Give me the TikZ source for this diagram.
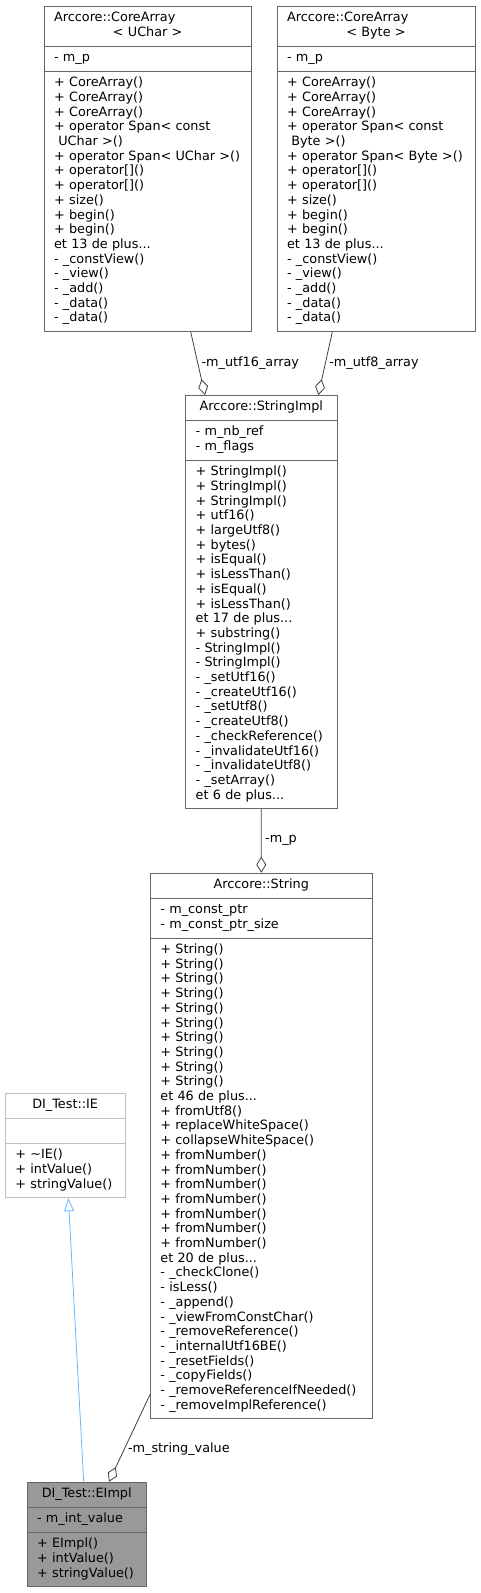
\documentclass[tikz,border=0pt]{standalone}
\usepackage{fontspec}
\setmainfont{DejaVu Sans}
\usetikzlibrary{shapes.multipart, arrows.meta, positioning}
\definecolor{boxgray}{HTML}{666666}
\definecolor{ifacegray}{HTML}{BFBFBF}
\definecolor{selffill}{HTML}{999999}
\definecolor{edgegray}{HTML}{404040}
\definecolor{inheritblue}{HTML}{63B8FF}
\newcommand{\hd}[1]{\makebox[\hsize][c]{#1}}

\begin{document}
\begin{tikzpicture}[x=1pt, y=-1pt, font=\fontsize{12.8}{14.7}\selectfont,
    cls/.style={rectangle split, rectangle split parts=3, draw=boxgray, line width=0.8pt,
      fill=white, inner xsep=10pt, inner ysep=4.8pt, align=left, anchor=north west},
    aggr/.style={draw=edgegray, line width=0.8pt, -{Diamond[open, length=16pt, width=10pt]}},
    inherit/.style={draw=inheritblue, line width=0.8pt, -{Triangle[open, length=13pt, width=10pt]}},
    lbl/.style={anchor=west, inner sep=3.5pt}]

    \useasboundingbox (0,0) rectangle (481,1593);

    % member classes
    \node (uchar) [cls, text width=187.2pt] at (43.7,6) {\strut Arccore::CoreArray\\\hd{< UChar >}\strut
      \nodepart{two}\strut - m\_p\strut
      \nodepart{three}\strut + CoreArray()\\+ CoreArray()\\+ CoreArray()\\+ operator Span< const\\~UChar >()\\+ operator Span< UChar >()\\+ operator[]()\\+ operator[]()\\+ size()\\+ begin()\\+ begin()\\et 13 de plus...\\- \_constView()\\- \_view()\\- \_add()\\- \_data()\\- \_data()\strut};
    \node (byte) [cls, text width=177.8pt] at (276.7,6) {\strut Arccore::CoreArray\\\hd{< Byte >}\strut
      \nodepart{two}\strut - m\_p\strut
      \nodepart{three}\strut + CoreArray()\\+ CoreArray()\\+ CoreArray()\\+ operator Span< const\\~Byte >()\\+ operator Span< Byte >()\\+ operator[]()\\+ operator[]()\\+ size()\\+ begin()\\+ begin()\\et 13 de plus...\\- \_constView()\\- \_view()\\- \_add()\\- \_data()\\- \_data()\strut};
    \node (impl) [cls, text width=131.2pt] at (185.3,395) {\strut\hd{Arccore::StringImpl}\strut
      \nodepart{two}\strut - m\_nb\_ref\\- m\_flags\strut
      \nodepart{three}\strut + StringImpl()\\+ StringImpl()\\+ StringImpl()\\+ utf16()\\+ largeUtf8()\\+ bytes()\\+ isEqual()\\+ isLessThan()\\+ isEqual()\\+ isLessThan()\\et 17 de plus...\\+ substring()\\- StringImpl()\\- StringImpl()\\- \_setUtf16()\\- \_createUtf16()\\- \_setUtf8()\\- \_createUtf8()\\- \_checkReference()\\- \_invalidateUtf16()\\- \_invalidateUtf8()\\- \_setArray()\\et 6 de plus...\strut};
    \node (str) [cls, text width=201.7pt] at (150,872.7) {\strut\hd{Arccore::String}\strut
      \nodepart{two}\strut - m\_const\_ptr\\- m\_const\_ptr\_size\strut
      \nodepart{three}\strut + String()\\+ String()\\+ String()\\+ String()\\+ String()\\+ String()\\+ String()\\+ String()\\+ String()\\+ String()\\et 46 de plus...\\+ fromUtf8()\\+ replaceWhiteSpace()\\+ collapseWhiteSpace()\\+ fromNumber()\\+ fromNumber()\\+ fromNumber()\\+ fromNumber()\\+ fromNumber()\\+ fromNumber()\\+ fromNumber()\\et 20 de plus...\\- \_checkClone()\\- isLess()\\- \_append()\\- \_viewFromConstChar()\\- \_removeReference()\\- \_internalUtf16BE()\\- \_resetFields()\\- \_copyFields()\\- \_removeReferenceIfNeeded()\\- \_removeImplReference()\strut};

    % interface and documented class
    \node (ie) [cls, draw=ifacegray, text width=99.5pt] at (5,1092.7) {\strut\hd{DI\_Test::IE}\strut
      \nodepart{two}\strut
      \nodepart{three}\strut + \textasciitilde IE()\\+ intValue()\\+ stringValue()\strut};
    \node (eimpl) [cls, fill=selffill, text width=99.2pt] at (26.7,1481.7) {\strut\hd{DI\_Test::EImpl}\strut
      \nodepart{two}\strut - m\_int\_value\strut
      \nodepart{three}\strut + EImpl()\\+ intValue()\\+ stringValue()\strut};

    % edges
    \draw [aggr] ([xshift=43pt]uchar.south) -- node [lbl, pos=0.49] {-m\_utf16\_array} ([xshift=-56.3pt]impl.north);
    \draw [aggr] ([xshift=-43.7pt]byte.south) -- node [lbl, pos=0.49] {-m\_utf8\_array} ([xshift=57pt]impl.north);
    \draw [aggr] (impl.south) -- node [lbl, pos=0.49] {-m\_p} (str.north);
    \draw [aggr] ([yshift=24.7pt]str.south west) -- node [lbl, pos=0.63] {-m\_string\_value} ([xshift=22.3pt]eimpl.north);
    \draw [inherit] ([xshift=-3pt]eimpl.north) -- ([xshift=3.2pt]ie.south);
\end{tikzpicture}
\end{document}
